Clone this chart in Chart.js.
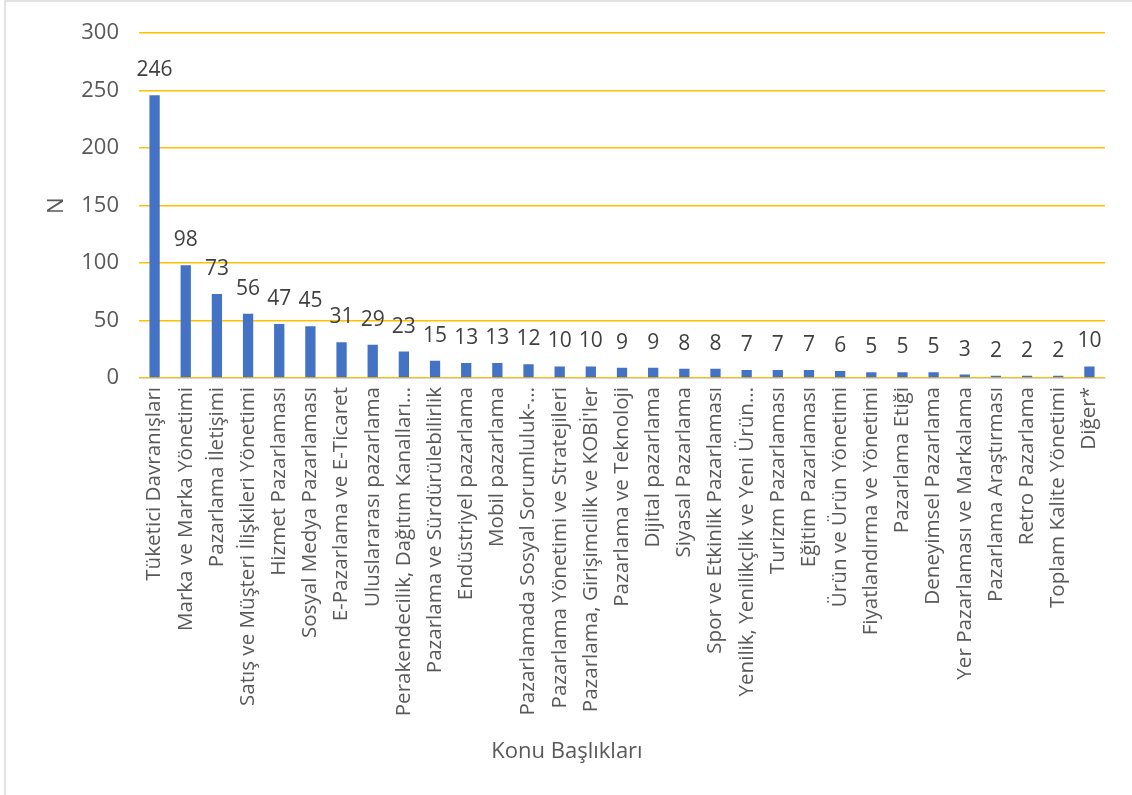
<!DOCTYPE html>
<html lang="tr">
<head>
<meta charset="utf-8">
<title>Konu Başlıkları</title>
<script src="https://cdn.jsdelivr.net/npm/chart.js@4"></script>
<style>
  html, body { margin: 0; padding: 0; background: #fff; overflow: hidden; }
  #wrap { position: relative; width: 1132px; height: 795px; }
</style>
</head>
<body>
<div id="wrap"><canvas id="chart" width="1132" height="795"></canvas></div>
<script>
// Konu başlıkları ve sayılar
const topics = [
  'Tüketici Davranışları',
  'Marka ve Marka Yönetimi',
  'Pazarlama İletişimi',
  'Satış ve Müşteri İlişkileri Yönetimi',
  'Hizmet Pazarlaması',
  'Sosyal Medya Pazarlaması',
  'E-Pazarlama ve E-Ticaret',
  'Uluslararası pazarlama',
  'Perakendecilik, Dağıtım Kanalları…',
  'Pazarlama ve Sürdürülebilirlik',
  'Endüstriyel pazarlama',
  'Mobil pazarlama',
  'Pazarlamada Sosyal Sorumluluk-…',
  'Pazarlama Yönetimi ve Stratejileri',
  'Pazarlama, Girişimcilik ve KOBİ\'ler',
  'Pazarlama ve Teknoloji',
  'Dijital pazarlama',
  'Siyasal Pazarlama',
  'Spor ve Etkinlik Pazarlaması',
  'Yenilik, Yenilikçlik ve Yeni Ürün…',
  'Turizm Pazarlaması',
  'Eğitim Pazarlaması',
  'Ürün ve Ürün Yönetimi',
  'Fiyatlandırma ve Yönetimi',
  'Pazarlama Etiği',
  'Deneyimsel Pazarlama',
  'Yer Pazarlaması ve Markalama',
  'Pazarlama Araştırması',
  'Retro Pazarlama',
  'Toplam Kalite Yönetimi',
  'Diğer*'
];
const counts = [246, 98, 73, 56, 47, 45, 31, 29, 23, 15, 13, 13, 12, 10, 10, 9, 9, 8, 8, 7, 7, 7, 6, 5, 5, 5, 3, 2, 2, 2, 10];
const yTicks = [0, 50, 100, 150, 200, 250, 300];
const xTitle = 'Konu Başlıkları';

const FONT = '"Open Sans", "DejaVu Sans", sans-serif';

// değer etiketleri (çubuğun üstünde)
const valueLabels = {
  id: 'valueLabels',
  afterDatasetsDraw(chart) {
    const { ctx } = chart;
    const meta = chart.getDatasetMeta(0);
    ctx.save();
    ctx.font = '21px ' + FONT;
    ctx.fillStyle = '#404040';
    ctx.textAlign = 'center';
    ctx.textBaseline = 'middle';
    meta.data.forEach((bar, i) => {
      ctx.fillText(String(counts[i]), bar.x, bar.y - 25);
    });
    ctx.restore();
  }
};

// dış çerçeve + x ekseni başlığı (grafiğin ortasına göre)
const frame = {
  id: 'frame',
  beforeDraw(chart) {
    const { ctx } = chart;
    ctx.save();
    ctx.strokeStyle = '#d9d9d9';
    ctx.lineWidth = 1.5;
    ctx.beginPath();
    ctx.moveTo(5, 795);
    ctx.lineTo(5, 1);
    ctx.lineTo(1132, 1);
    ctx.stroke();
    ctx.restore();
  },
  afterDraw(chart) {
    const { ctx } = chart;
    ctx.save();
    ctx.font = '22px ' + FONT;
    ctx.fillStyle = '#595959';
    ctx.textAlign = 'center';
    ctx.textBaseline = 'middle';
    ctx.fillText(xTitle, 567, 752);
    ctx.restore();
  }
};

function drawChart() {
  new Chart(document.getElementById('chart'), {
    type: 'bar',
    data: {
      labels: topics,
      datasets: [{
        data: counts,
        backgroundColor: '#4472C4',
        borderWidth: 0,
        categoryPercentage: 1,
        barPercentage: 0.33
      }]
    },
    options: {
      responsive: false,
      animation: false,
      devicePixelRatio: 1,
      layout: { padding: { left: 10, right: 27, top: 31, bottom: 20 } },
      plugins: {
        legend: { display: false },
        tooltip: { enabled: false }
      },
      scales: {
        x: {
          grid: { display: false, drawTicks: false },
          border: { display: true, color: '#d9d9d9', width: 1 },
          ticks: {
            color: '#595959',
            font: { family: FONT, size: 20.6 },
            minRotation: 90,
            maxRotation: 90,
            autoSkip: false,
            padding: 9
          },
          title: { display: false },
          afterFit(scale) { scale.height = 795 - 378 - 20; }
        },
        y: {
          min: 0,
          max: 300,
          afterBuildTicks(scale) { scale.ticks = yTicks.map(v => ({ value: v })); },
          grid: { color: '#FFC000', lineWidth: 1.5, drawTicks: false },
          border: { display: false },
          ticks: {
            color: '#595959',
            font: { family: FONT, size: 22 },
            padding: 20
          },
          title: {
            display: true,
            text: 'N',
            color: '#595959',
            font: { family: FONT, size: 22 },
            padding: { top: 34, bottom: 0 }
          },
          afterFit(scale) { scale.width = 139 - 10; }
        }
      }
    },
    plugins: [frame, valueLabels]
  });
}

if (document.fonts && document.fonts.load) {
  document.fonts.load('22px "Open Sans"').then(drawChart, drawChart);
} else {
  drawChart();
}
</script>
</body>
</html>
